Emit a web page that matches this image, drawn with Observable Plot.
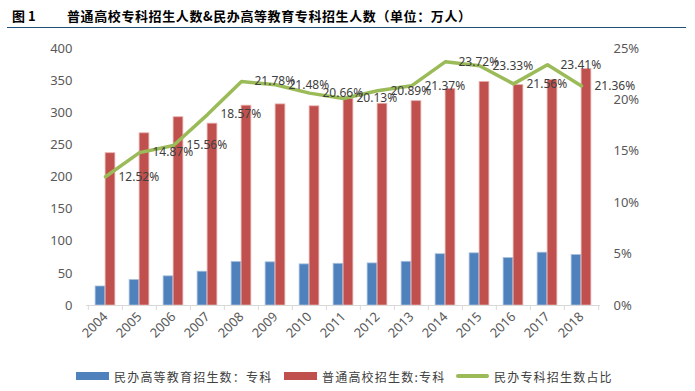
<!DOCTYPE html>
<html>
<head>
<meta charset="utf-8">
<script src="https://cdn.jsdelivr.net/npm/d3@7"></script>
<script src="https://cdn.jsdelivr.net/npm/@observablehq/plot@0.6"></script>
<style>
  html, body { margin: 0; padding: 0; background: #fff; }
  body { width: 695px; height: 391px; position: relative; overflow: hidden; font-family: "Noto Sans", sans-serif; }
  #title { position: absolute; left: 7px; top: 0; width: 679px; height: 27px; border-bottom: 1px solid #1f4e79;
           font-family: "Noto Sans CJK SC", sans-serif; font-weight: bold; font-size: 13px; color: #000; }
  #title .num { position: absolute; left: 5px; top: 6px; }
  #title .txt { position: absolute; left: 60px; top: 6px; white-space: nowrap; letter-spacing: 0.6px; }
  #chart { position: absolute; left: 0; top: 30px; }
  #legend { position: absolute; left: 0; top: 366px; width: 695px; height: 20px; }
  .item { position: absolute; top: 0; height: 20px; display: flex; align-items: center;
          font-family: "Noto Sans CJK SC", sans-serif; font-size: 12px; letter-spacing: 1.2px; color: #404040; white-space: nowrap; }
  .sw { display: inline-block; width: 33px; margin-right: 5px; }
</style>
</head>
<body>
<div id="title"><span class="num">图 1</span><span class="txt">普通高校专科招生人数&amp;民办高等教育专科招生人数（单位：万人）</span></div>
<div id="chart"></div>
<div id="legend"></div>
<script>
const years = ["2004","2005","2006","2007","2008","2009","2010","2011","2012","2013","2014","2015","2016","2017","2018"];
const privateEnroll = [29.6, 39.7, 45.4, 52.6, 67.6, 67.2, 64.0, 64.9, 65.5, 68.0, 79.8, 81.2, 73.8, 82.2, 78.6];
const generalEnroll = [237, 268, 293, 283, 311, 313, 310, 322, 314, 318, 337, 348, 343, 351, 368];
const ratioPct = [12.52, 14.87, 15.56, 18.57, 21.78, 21.48, 20.66, 20.13, 20.89, 21.37, 23.72, 23.33, 21.56, 23.41, 21.36];
const leftTicks = [0, 50, 100, 150, 200, 250, 300, 350, 400];
const rightTicks = [0, 5, 10, 15, 20, 25];
const seriesNames = ["民办高等教育招生数：专科", "普通高校招生数:专科", "民办专科招生数占比"];
const seriesColors = ["#4f81bd", "#c0504d", "#9bbb59"];

const rows = years.map((y, i) => ({year: y, priv: privateEnroll[i], gen: generalEnroll[i], ratio: ratioPct[i]}));
const leftMax = 400, rightMax = 25;
const k = leftMax / rightMax;

const W = 695, H = 330, mL = 86, mR = 95, mT = 18, mB = 55;
const bw = (W - mL - mR) / years.length;
const barW = 10;

const chart = Plot.plot({
  width: W, height: H,
  marginTop: mT, marginBottom: mB, marginLeft: mL, marginRight: mR,
  style: {fontFamily: "Noto Sans, sans-serif", fontSize: "13px", color: "#595959", background: "#fff"},
  x: {domain: years, padding: 0, axis: null},
  y: {domain: [0, leftMax], axis: null},
  marks: [
    Plot.barY(rows, {x: "year", y: "priv", fill: seriesColors[0], stroke: "#a7c0de", strokeWidth: 0.8,
      insetLeft: bw / 2 - barW, insetRight: bw / 2}),
    Plot.barY(rows, {x: "year", y: "gen", fill: seriesColors[1], stroke: "#e6b0ae", strokeWidth: 0.8,
      insetLeft: bw / 2, insetRight: bw / 2 - barW}),
    Plot.ruleY([0], {stroke: "#d9d9d9", strokeWidth: 1}),
    Plot.ruleX(rows, {x: "year", dx: -bw / 2, y1: 0, y2: 0, insetBottom: -5, stroke: "#d9d9d9"}),
    Plot.ruleX([rows[rows.length - 1]], {x: "year", dx: bw / 2, y1: 0, y2: 0, insetBottom: -5, stroke: "#d9d9d9"}),
    Plot.line(rows, {x: "year", y: d => d.ratio * k, stroke: seriesColors[2], strokeWidth: 3.5, strokeLinejoin: "round"}),
    Plot.text(rows, {x: "year", y: d => d.ratio * k, text: d => d.ratio.toFixed(2) + "%", dx: 13, textAnchor: "start",
      fill: "#404040", fontSize: 12}),
    Plot.axisY(leftTicks, {anchor: "left", tickSize: 0, tickPadding: 14, fontSize: 13, fill: "#595959", label: null}),
    Plot.axisY(rightTicks.map(t => t * k), {anchor: "right", tickSize: 0, tickPadding: 13, fontSize: 13, fill: "#595959",
      tickFormat: d => (d / k) + "%", label: null}),
    Plot.axisX({tickSize: 0, tickRotate: -45, tickPadding: 9, fontSize: 13, fill: "#595959", label: null})
  ]
});
document.getElementById("chart").appendChild(chart);

const lefts = [76, 284, 456];
const legend = document.getElementById("legend");
seriesNames.forEach((name, i) => {
  const it = document.createElement("div");
  it.className = "item";
  it.style.left = lefts[i] + "px";
  const sw = document.createElement("span");
  sw.className = "sw";
  sw.style.background = seriesColors[i];
  sw.style.height = i === 2 ? "4px" : "8px";
  if (i === 2) sw.style.borderRadius = "2px";
  it.appendChild(sw);
  it.appendChild(document.createTextNode(name));
  legend.appendChild(it);
});
</script>
</body>
</html>
